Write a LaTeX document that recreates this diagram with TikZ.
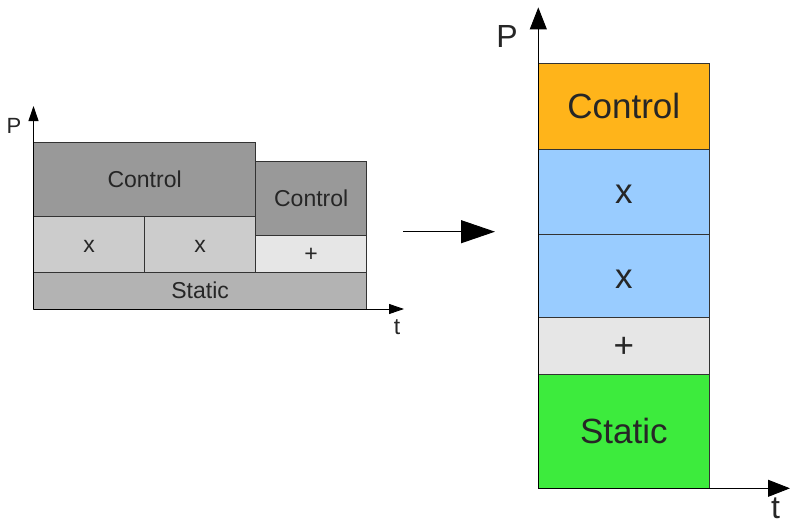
\documentclass[tikz,border=0pt]{standalone}
\usepackage{fontspec}
\setmainfont{Liberation Sans}
\usetikzlibrary{arrows.meta, positioning}
\definecolor{ctrlGray}{HTML}{999999}
\definecolor{mulGray}{HTML}{CCCCCC}
\definecolor{addGray}{HTML}{E6E6E6}
\definecolor{staticGray}{HTML}{B3B3B3}
\definecolor{ctrlOrange}{RGB}{255,180,26}
\definecolor{mulBlue}{HTML}{99CCFF}
\definecolor{staticGreen}{RGB}{61,235,61}

\begin{document}
\begin{tikzpicture}[
    x=1pt, y=-1pt,
    block/.style={
      rectangle, draw=black!80, line width=0.8pt,
      inner sep=0pt, outer sep=0pt, text=black!85
    },
    smallblock/.style={block, font=\fontsize{23}{27}\selectfont,
      text height=20.8pt, text depth=4.9pt},
    bigblock/.style={block, font=\fontsize{35}{42}\selectfont,
      text height=31.7pt, text depth=7.4pt, minimum width=171pt},
    axis/.style={line width=0.9pt, -{Triangle[length=15pt, width=10pt]}},
    bigaxis/.style={line width=0.9pt, -{Triangle[length=22pt, width=17pt]}},
    arrow/.style={line width=1pt, -{Triangle[length=34pt, width=23pt]}},
    axislabel/.style={inner sep=0pt, text=black!85},
  ]
    \useasboundingbox (0,0) rectangle (790,527);

    % Left: two time slots
    \node[smallblock, fill=staticGray, anchor=north west,
      minimum width=333.2pt, minimum height=37pt] (lstatic) at (33.5,272) {Static};
    \node[smallblock, fill=mulGray, anchor=south west,
      minimum width=111.2pt, minimum height=55.3pt] (lx1) at (33.5,272) {x};
    \node[smallblock, fill=mulGray, right=0pt of lx1,
      minimum width=111pt, minimum height=55.3pt] (lx2) {x};
    \node[smallblock, fill=addGray, right=0pt of lx2.south east, anchor=south west,
      minimum width=111pt, minimum height=36.7pt] (ladd) {+};
    \node[smallblock, fill=ctrlGray, anchor=south west,
      minimum width=222.2pt, minimum height=74pt] (lctrl1) at (lx1.north west) {Control};
    \node[smallblock, fill=ctrlGray, above=0pt of ladd,
      minimum width=111pt, minimum height=74pt] (lctrl2) {Control};

    \coordinate (lorigin) at (33.5,309);
    \coordinate (ltop) at (33.5,106);
    \coordinate (lright) at (404,309);
    \draw[axis] (lorigin) -- (ltop);
    \draw[axis] (lorigin) -- (lright);
    \node[axislabel, font=\fontsize{22}{26}\selectfont] (lp) at (14,126) {P};
    \node[axislabel, font=\fontsize{23}{27}\selectfont] (lt) at (397,327) {t};

    % Merge arrow
    \coordinate (mfrom) at (403,231.7);
    \coordinate (mto) at (495,231.7);
    \draw[arrow] (mfrom) -- (mto);

    % Right: stacked in one slot
    \node[bigblock, fill=ctrlOrange, minimum height=85.1pt] (rctrl) at (623.8,106.45) {Control};
    \node[bigblock, fill=mulBlue, below=0pt of rctrl, minimum height=85.4pt] (rx1) {x};
    \node[bigblock, fill=mulBlue, below=0pt of rx1, minimum height=83pt] (rx2) {x};
    \node[bigblock, fill=addGray, below=0pt of rx2, minimum height=56.8pt] (radd) {+};
    \node[bigblock, fill=staticGreen, below=0pt of radd, minimum height=114.1pt] (rstatic) {Static};

    \coordinate (rorigin) at (538.3,488.3);
    \coordinate (rtop) at (538.3,7.4);
    \coordinate (rright) at (790,488.3);
    \draw[bigaxis] (rorigin) -- (rtop);
    \draw[bigaxis] (rorigin) -- (rright);
    \node[axislabel, font=\fontsize{32}{38}\selectfont] (rp) at (507,36.7) {P};
    \node[axislabel, font=\fontsize{32}{38}\selectfont] (rt) at (775.5,508) {t};
\end{tikzpicture}
\end{document}
